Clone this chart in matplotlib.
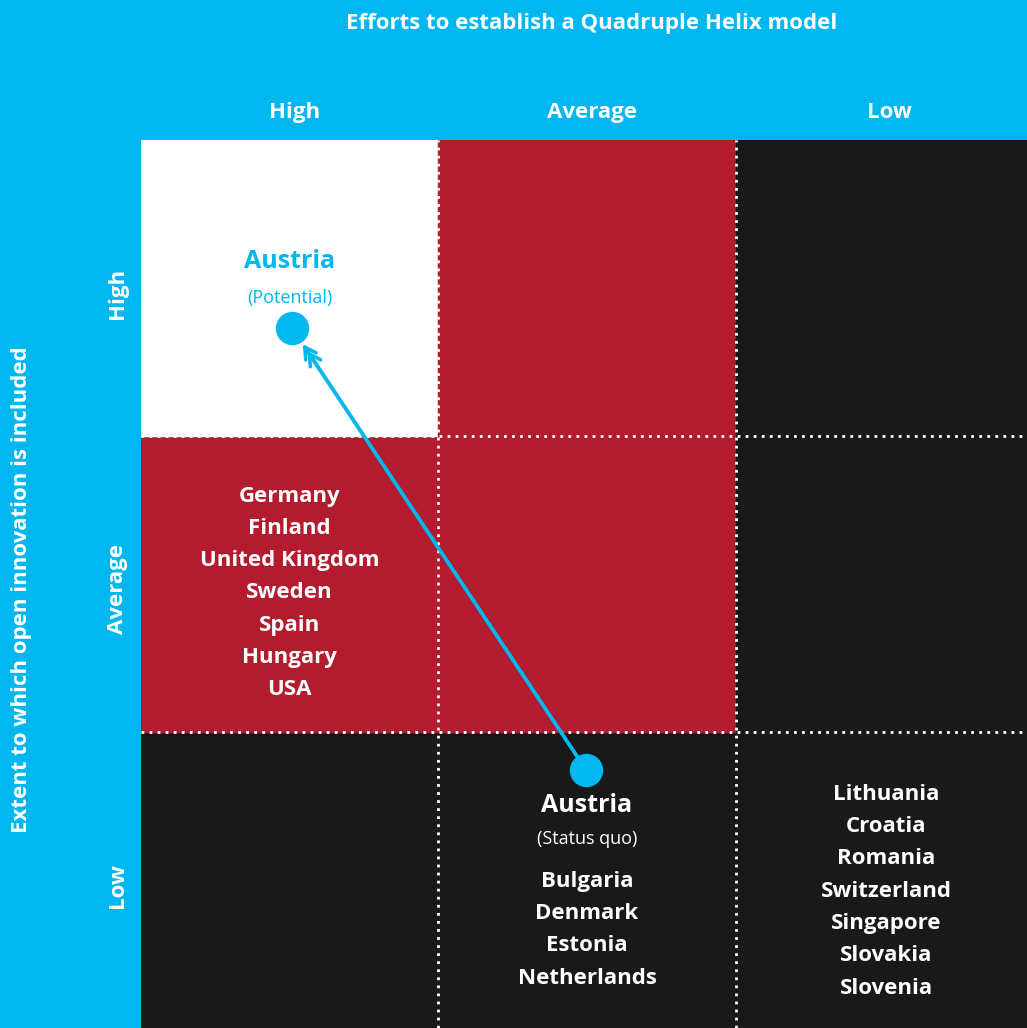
import matplotlib.pyplot as plt
from matplotlib.patches import Rectangle

cyan = '#00B7F0'
red = '#B31B2E'
black = '#1A1919'

col_labels = ['High', 'Average', 'Low']
row_labels = ['Low', 'Average', 'High']   # bottom to top
# cell colours, rows bottom to top
cell_colors = [[black, black, black],
               [red, red, black],
               ['white', red, black]]

avg_high = ['Germany', 'Finland', 'United Kingdom', 'Sweden', 'Spain', 'Hungary', 'USA']
low_avg = ['Bulgaria', 'Denmark', 'Estonia', 'Netherlands']
low_low = ['Lithuania', 'Croatia', 'Romania', 'Switzerland', 'Singapore', 'Slovakia', 'Slovenia']

status_quo = (1.497, 0.872)
potential = (0.508, 2.365)

plt.rcParams['font.family'] = ['Open Sans', 'DejaVu Sans']

fig = plt.figure(figsize=(10.27, 10.28), dpi=100, facecolor=cyan)
ax = fig.add_axes([141 / 1027, 0, 1 - 141 / 1027, 888 / 1028])
ax.set_xlim(0, 2.98)
ax.set_ylim(0, 3)
ax.axis('off')

for r in range(3):
    for c in range(3):
        ax.add_patch(Rectangle((c, r), 1, 1, color=cell_colors[r][c], zorder=1))

# dotted grid lines
for v in [1, 2]:
    ax.plot([v, v], [0, 3.0], color='white', ls=(0, (1, 1.9)), lw=2, zorder=2)
    ax.plot([0, 3], [v, v], color='white', ls=(0, (1, 1.9)), lw=2, zorder=2)

dy = -2 / 296  # small nudge down
tk = dict(ha='center', va='center', color='white', fontweight='bold', clip_on=False)
ax.text(1.517, 3.402 + dy, 'Efforts to establish a Quadruple Helix model', fontsize=16, **tk)
for i, lab in enumerate(col_labels):
    ax.text(0.518 + i, 3.098 + dy, lab, fontsize=16, **tk)
for i, lab in enumerate(row_labels):
    ax.text(-0.079, 0.482 + i, lab, fontsize=16, rotation=90, **tk)
ax.text(-0.403, 1.48, 'Extent to which open innovation is included', fontsize=16, rotation=90, **tk)

step = 32.3 / 296
for i, name in enumerate(avg_high):
    ax.text(0.5, 1.804 + dy - i * step, name, fontsize=16, **tk)
for i, name in enumerate(low_avg):
    ax.text(1.5, 0.503 + dy - i * step, name, fontsize=16, **tk)
for i, name in enumerate(low_low):
    ax.text(2.506, 0.796 + dy - i * step, name, fontsize=16, **tk)

ax.text(1.5, 0.76 + dy, 'Austria', fontsize=18, **tk)
ax.text(1.5, 0.645 + dy, '(Status quo)', fontsize=13, ha='center', va='center', color='white')
ax.text(0.5, 2.595 + dy, 'Austria', fontsize=18, ha='center', va='center', color=cyan, fontweight='bold')
ax.text(0.5, 2.473 + dy, '(Potential)', fontsize=13, ha='center', va='center', color=cyan)

# line with a double open arrowhead
head = '->,head_length=0.8,head_width=0.45'
ax.annotate('', xy=potential, xytext=status_quo,
            arrowprops=dict(arrowstyle=head, color=cyan, lw=2.5, shrinkA=0, shrinkB=14), zorder=3)
ax.annotate('', xy=potential, xytext=status_quo,
            arrowprops=dict(arrowstyle=head, color=cyan, lw=2.5, shrinkA=0, shrinkB=20), zorder=3)
ax.plot(*zip(status_quo, potential), 'o', color=cyan, ms=23, ls='none', zorder=4)

fig.savefig('out.png', dpi=100, facecolor=cyan)
